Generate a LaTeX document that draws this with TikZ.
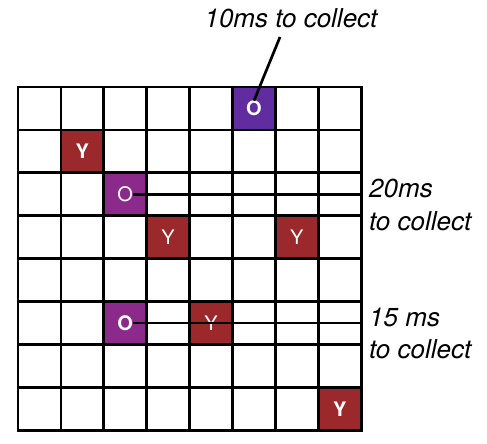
\documentclass[tikz,border=0pt]{standalone}
\usepackage{fontspec}
\setmainfont{TeX Gyre Heros}
\definecolor{cellred}{RGB}{155,40,42}
\definecolor{cellviolet}{RGB}{96,44,160}
\definecolor{cellpurple}{RGB}{140,42,140}
\begin{document}
\begin{tikzpicture}[x=1pt,y=-1pt,
  cellbox/.style={minimum size=42.9pt, inner sep=0pt, draw=none},
  redcell/.style={cellbox, fill=cellred},
  violetcell/.style={cellbox, fill=cellviolet},
  purplecell/.style={cellbox, fill=cellpurple},
  letter/.style={inner sep=0pt, text=white, font=\fontsize{20}{20}\selectfont},
  boldletter/.style={letter, font=\fontsize{20}{20}\selectfont\bfseries},
  lbl/.style={inner sep=0pt, font=\fontsize{26}{33}\selectfont\itshape},
  gridline/.style={line width=2.7pt, line cap=rect},
  lead/.style={line width=2.7pt}
]
\useasboundingbox (0,0) rectangle (487,444);
\def\cs{42.9}
% coloured cells (column, row)
\node[violetcell] (c50) at ({18+\cs*5.5},{87+\cs*0.5}) {};
\node[redcell]    (c11) at ({18+\cs*1.5},{87+\cs*1.5}) {};
\node[purplecell] (c22) at ({18+\cs*2.5},{87+\cs*2.5}) {};
\node[redcell]    (c33) at ({18+\cs*3.5},{87+\cs*3.5}) {};
\node[redcell]    (c63) at ({18+\cs*6.5},{87+\cs*3.5}) {};
\node[purplecell] (c25) at ({18+\cs*2.5},{87+\cs*5.5}) {};
\node[redcell]    (c45) at ({18+\cs*4.5},{87+\cs*5.5}) {};
\node[redcell]    (c77) at ({18+\cs*7.5},{87+\cs*7.5}) {};
% grid
\foreach \i in {0,...,8} {
  \draw[gridline] ({18+\cs*\i},87) -- ({18+\cs*\i},{87+\cs*8});
  \draw[gridline] (18,{87+\cs*\i}) -- ({18+\cs*8},{87+\cs*\i});
}
% letters
\node[boldletter] (o0) at (c50) {O};
\node[boldletter] (y1) at (c11) {Y};
\node[letter]     (o2) at (c22) {O};
\node[letter]     (y3) at (c33) {Y};
\node[letter]     (y3b) at (c63) {Y};
\node[boldletter] (o5) at (c25) {O};
\node[letter]     (y5) at (c45) {Y};
\node[boldletter] (y7) at (c77) {Y};
% labels
\node[lbl, anchor=base] (t10) at (291,28) {10ms to collect};
\node[lbl, anchor=base west] (t20a) at (369,197) {20ms};
\node[lbl, anchor=base west] (t20b) at (369,230) {to collect};
\node[lbl, anchor=base west] (t15a) at (369,326) {15 ms};
\node[lbl, anchor=base west] (t15b) at (369,358) {to collect};
% leaders
\coordinate (e10) at (280,37);
\coordinate (e20) at (362,196);
\coordinate (e15) at (362,324);
\draw[lead] (o0.north) -- (e10);
\draw[lead] (o2.east) -- (o2.east -| e20);
\draw[lead] (o5.east) -- (o5.east -| e15);
\end{tikzpicture}
\end{document}
